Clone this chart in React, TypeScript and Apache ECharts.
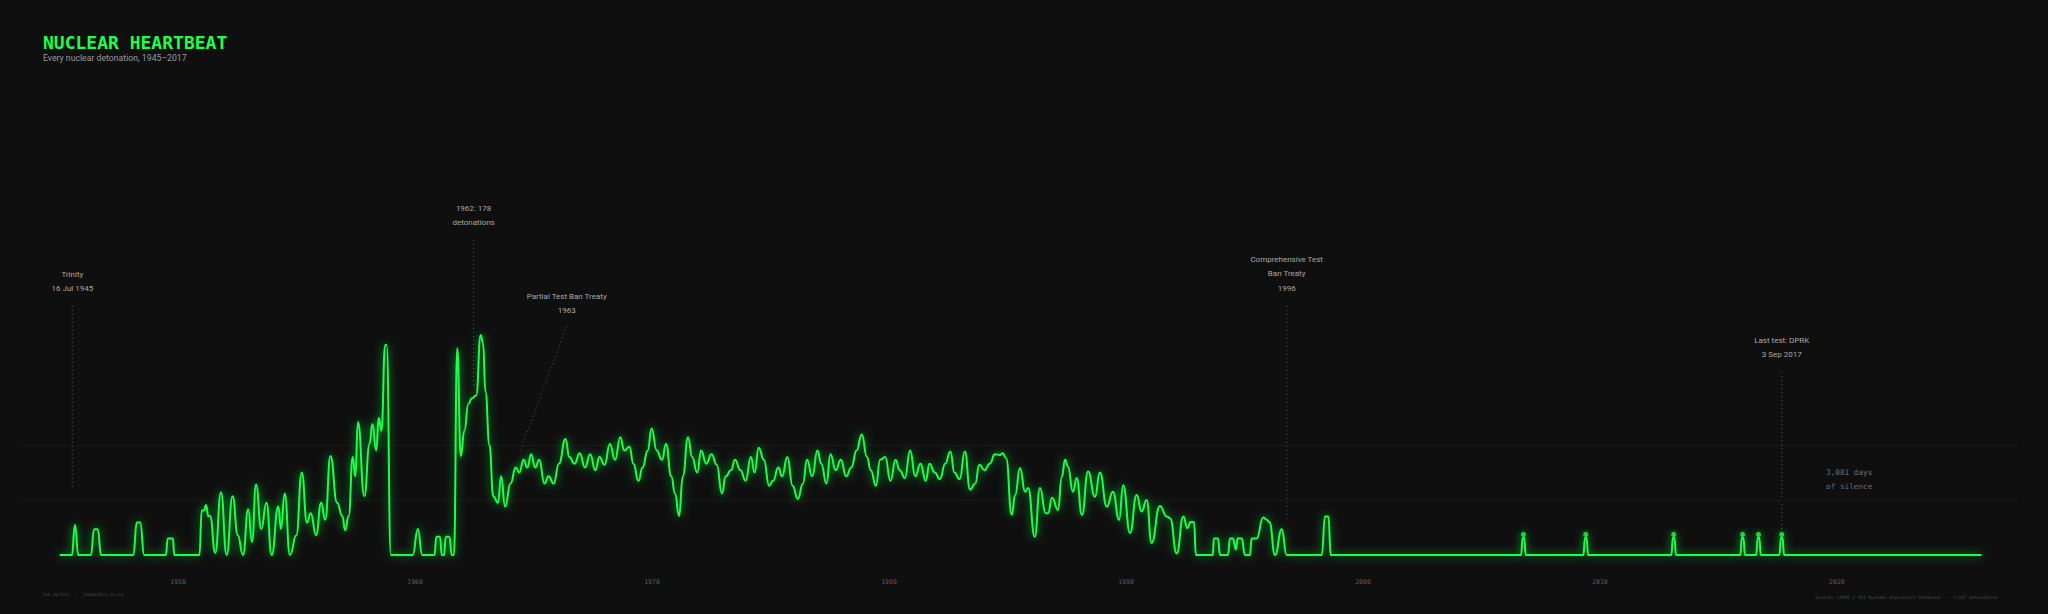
import React, { useEffect, useRef } from "react";
import * as echarts from "echarts";

// Smoothed detonation pulse (years, intensity)
const pulseYears = [
  1945.0, 1945.52, 1945.65, 1945.79, 1946.32, 1946.46, 1946.61, 1946.75,
  1948.11, 1948.26, 1948.4, 1948.57, 1949.48, 1949.57, 1949.78, 1949.84,
  1950.9, 1951.0, 1951.1, 1951.18, 1951.28, 1951.35, 1951.57, 1951.81,
  1952.05, 1952.3, 1952.52, 1952.74, 1952.96, 1953.12, 1953.29, 1953.51,
  1953.73, 1953.95, 1954.23, 1954.34, 1954.5, 1954.72, 1954.99, 1955.22,
  1955.44, 1955.6, 1955.82, 1956.04, 1956.21, 1956.43, 1956.71, 1956.93,
  1957.05, 1957.2, 1957.37, 1957.48, 1957.59, 1957.86, 1958.08, 1958.2,
  1958.36, 1958.47, 1958.58, 1958.74, 1958.8, 1958.98,
  1959.9, 1960.12, 1960.3, 1960.82, 1960.9, 1961.05, 1961.13, 1961.22,
  1961.3, 1961.45, 1961.55, 1961.64, 1961.78, 1961.93, 1962.08, 1962.25,
  1962.4, 1962.58, 1962.77, 1962.87, 1962.97, 1963.14, 1963.3, 1963.5,
  1963.63, 1963.8, 1964.03, 1964.25, 1964.4, 1964.58, 1964.74, 1964.9,
  1965.07, 1965.24, 1965.46, 1965.63, 1965.85, 1966.07, 1966.35, 1966.51,
  1966.73, 1966.95, 1967.17, 1967.39, 1967.61, 1967.78, 1968.0, 1968.22,
  1968.44, 1968.66, 1968.83, 1969.05, 1969.21, 1969.43, 1969.6, 1969.82,
  1969.98, 1970.2, 1970.42, 1970.59, 1970.81, 1970.97, 1971.14, 1971.3,
  1971.52, 1971.69, 1971.91, 1972.07, 1972.29, 1972.51, 1972.73, 1972.95,
  1973.11, 1973.33, 1973.5, 1973.73, 1973.95, 1974.17, 1974.33, 1974.5,
  1974.72, 1974.94, 1975.11, 1975.33, 1975.49, 1975.71, 1975.93, 1976.15,
  1976.37, 1976.54, 1976.76, 1976.98, 1977.14, 1977.36, 1977.53, 1977.75,
  1977.97, 1978.19, 1978.41, 1978.63, 1978.85, 1979.07, 1979.23, 1979.45,
  1979.62, 1979.84, 1980.06, 1980.28, 1980.45, 1980.67, 1980.89, 1981.11,
  1981.33, 1981.55, 1981.71, 1981.93, 1982.15, 1982.37, 1982.59, 1982.76,
  1982.98, 1983.2, 1983.42, 1983.64, 1983.81, 1984.03, 1984.25, 1984.47,
  1984.68, 1984.8, 1984.94, 1985.18, 1985.32, 1985.53, 1985.74, 1985.87,
  1986.15, 1986.37, 1986.61, 1986.71, 1986.88, 1987.13, 1987.29, 1987.43,
  1987.55, 1987.76, 1987.92, 1988.14, 1988.4, 1988.69, 1988.9, 1989.19,
  1989.45, 1989.71, 1989.88, 1990.17, 1990.45, 1990.66, 1990.87, 1991.08,
  1991.43, 1991.72, 1991.86, 1992.14, 1992.42, 1992.59, 1992.73, 1992.87,
  1992.95, 1993.66, 1993.71, 1993.88, 1993.97, 1994.3, 1994.39, 1994.51,
  1994.64, 1994.71, 1994.88, 1995.02, 1995.23, 1995.3, 1995.51, 1995.79,
  1995.94, 1996.05, 1996.29, 1996.57, 1996.78, 1998.26, 1998.4, 1998.54,
  1998.64,
  2006.67, 2006.74, 2006.8, 2006.87,
  2009.3, 2009.37, 2009.43, 2009.5,
  2013.01, 2013.08, 2013.14, 2013.21,
  2015.92, 2015.99, 2016.05, 2016.12,
  2016.59, 2016.66, 2016.72, 2016.79,
  2017.57, 2017.64, 2017.7, 2017.77,
  2026.1,
];

const pulseValues = [
  0, 0, 5.45, 0, 0, 4.7, 4.7, 0,
  0, 5.9, 5.9, 0, 0, 3.0, 3.0, 0,
  0, 8.1, 8.1, 9.1, 7.0, 7.1, 0.4, 11.4,
  0, 10.7, 3.6, 0, 8.3, 2.4, 12.8, 4.75,
  9.5, 0, 8.8, 4.75, 11.2, 0, 3.6, 15,
  5.9, 7.6, 3.6, 9.5, 6.4, 18, 9.5, 7.1,
  4.5, 7.1, 17.8, 14.3, 24.2, 10.7, 20.2, 23.8,
  19, 24.9, 22.6, 38.2, 38.2, 0,
  0, 4.75, 0, 0, 3.3, 3.3, 0, 0,
  3.3, 3.3, 0, 0, 37.6, 18, 22.6, 27.5,
  28.5, 29, 40, 38.5, 29.7, 20, 10.7, 9.5,
  14.3, 8.8, 13, 15.9, 15, 17.3, 15.9, 18.3,
  15.9, 17.3, 13, 14.3, 13, 16.6, 21.1, 17.8,
  16.6, 18.5, 15.9, 18.3, 15.4, 17.8, 16.4, 20.2,
  17.3, 21.4, 19, 19.7, 16.6, 13.5, 15.9, 19,
  23, 19, 17.3, 20.2, 14.3, 11.2, 7.1, 14.3,
  21.4, 17.8, 15, 19, 16.6, 18.3, 16.4, 11.2,
  14.3, 15.4, 17.3, 15.4, 13.5, 17.8, 15, 19.5,
  17.3, 12.6, 13.5, 15.9, 14.3, 17.8, 12.6, 10.2,
  13, 17.3, 14.3, 19, 16.6, 13, 18.3, 15.4,
  17.3, 14.3, 15.9, 19, 21.9, 17.8, 15.4, 12.6,
  17.3, 17.8, 13.5, 17.3, 15.4, 14, 19, 14.3,
  16.6, 13.5, 16.6, 15, 13.8, 16.6, 18.8, 15,
  13.8, 18.8, 11.9, 13, 16.4, 15.4, 16.6, 18.3,
  18.2, 18.5, 17.6, 7.3, 10.9, 15.8, 11.5, 12.2,
  3.3, 12.2, 7.6, 7.6, 10.4, 8.2, 14.2, 17.3,
  16.1, 11.5, 14, 7.3, 15.2, 10.6, 15, 8.8,
  11.5, 6.4, 12.7, 4, 10.9, 7.9, 10, 2.2,
  8.9, 7, 6.7, 0.3, 7, 4.9, 6, 6,
  0, 0, 3, 3, 0, 0, 3, 3,
  1, 3, 3, 0, 0, 3, 3, 6.8,
  6.4, 6.0, 0, 4.7, 0, 0, 7, 7,
  0,
  0, 3.2, 3.2, 0,
  0, 3.2, 3.2, 0,
  0, 3.2, 3.2, 0,
  0, 3.2, 3.2, 0,
  0, 3.2, 3.2, 0,
  0, 3.2, 3.2, 0,
  0,
];

// DPRK tests marked with a dot
const dprkYears = [2006.77, 2009.4, 2013.11, 2016.02, 2016.69, 2017.67];
const dprkValues = [3.2, 3.2, 3.2, 3.2, 3.2, 3.2];

const tickYears = [1950, 1960, 1970, 1980, 1990, 2000, 2010, 2020];
const gridLevels = [10, 20];

const annotationYears = [1945.54, 1962.47, 1966.4, 1996.78, 2017.67];
const annotationPointYears = [1945.54, 1962.47, 1964.43, 1996.78, 2017.67];
const annotationLines = [
  ["Trinity", "16 Jul 1945"],
  ["1962: 178", "detonations"],
  ["Partial Test Ban Treaty", "1963"],
  ["Comprehensive Test", "Ban Treaty", "1996"],
  ["Last test: DPRK", "3 Sep 2017"],
];

const titleText = "NUCLEAR HEARTBEAT";
const subtitleText = "Every nuclear detonation, 1945\u20132017";
const silenceLines = ["3,081 days", "of silence"];
const creditText = "lee durbin  \u00b7  leedurbin.co.nz";
const sourceText = "Source: SIPRI / FOI Nuclear Explosions Database  \u00b7  2,057 detonations";

// Layout (pixels) for annotation text and leader lines
const annTextTop = [274, 208, 296, 259, 340];
const annLeaderTop = [306, 240, 326, 306, 372];
const annLeaderBottom = [490, 385, 451, 522, 530];
const LINE_GAP = 14.6;

const GREEN = "#1cff48";

export default function App() {
  const ref = useRef<HTMLDivElement>(null);

  useEffect(() => {
    if (!ref.current) return;
    const chart = echarts.init(ref.current, undefined, { renderer: "svg" });

    const lineData = pulseYears.map((y, i) => [y, pulseValues[i]]);
    const dotData = dprkYears.map((y, i) => [y, dprkValues[i]]);

    chart.setOption({
      animation: false,
      backgroundColor: "#0f0f0f",
      grid: { left: 20, right: 30, top: 280, bottom: 59 },
      xAxis: {
        type: "value",
        min: 1943.33,
        max: 2027.64,
        axisLine: { show: false },
        axisTick: { show: false },
        splitLine: { show: false },
        axisLabel: {
          customValues: tickYears,
          formatter: (v: number) => String(Math.round(v)),
          color: "#5a5a5a",
          fontSize: 6.5,
          fontFamily: "DejaVu Sans Mono",
          margin: 23,
        },
      },
      yAxis: {
        type: "value",
        min: 0,
        max: 50,
        show: false,
        splitLine: { show: false },
      },
      series: [
        {
          type: "line",
          data: lineData,
          showSymbol: false,
          symbol: "none",
          smooth: 0.5,
          smoothMonotone: "x",
          clip: false,
          z: 3,
          lineStyle: {
            color: GREEN,
            width: 2,
            shadowColor: "rgba(20,255,70,0.75)",
            shadowBlur: 8,
          },
          markLine: {
            silent: true,
            symbol: "none",
            label: { show: false },
            lineStyle: { color: "#181818", type: "solid", width: 1 },
            data: gridLevels.map((v) => ({ yAxis: v })),
            z: 1,
          },
        },
        {
          type: "scatter",
          data: dotData,
          symbol: "circle",
          symbolSize: 5,
          symbolOffset: [0, -3],
          z: 4,
          itemStyle: {
            color: GREEN,
            shadowColor: "rgba(20,255,70,0.8)",
            shadowBlur: 6,
          },
        },
      ],
    });

    const graphics: any[] = [];
    graphics.push({
      type: "text",
      style: {
        text: titleText,
        x: 43,
        y: 42,
        fill: GREEN,
        fontSize: 18,
        fontWeight: "bold",
        fontFamily: "DejaVu Sans Mono",
        textVerticalAlign: "middle",
      },
    });
    graphics.push({
      type: "text",
      style: {
        text: subtitleText,
        x: 43,
        y: 58,
        fill: "#9a9a9a",
        fontSize: 8.7,
        fontFamily: "Roboto",
        textVerticalAlign: "middle",
      },
    });

    annotationYears.forEach((yr, i) => {
      const [px] = chart.convertToPixel({ gridIndex: 0 }, [yr, 0]) as number[];
      const [ppx] = chart.convertToPixel({ gridIndex: 0 }, [annotationPointYears[i], 0]) as number[];
      annotationLines[i].forEach((t, j) => {
        graphics.push({
          type: "text",
          style: {
            text: t,
            x: px,
            y: annTextTop[i] + j * LINE_GAP,
            fill: "#a8a8a8",
            fontSize: 8,
            fontFamily: "Roboto",
            textAlign: "center",
            textVerticalAlign: "middle",
          },
        });
      });
      graphics.push({
        type: "line",
        shape: { x1: px, y1: annLeaderTop[i], x2: ppx, y2: annLeaderBottom[i] },
        style: { stroke: "#555555", lineWidth: 1, lineDash: [1, 3] },
      });
    });

    silenceLines.forEach((t, j) => {
      graphics.push({
        type: "text",
        style: {
          text: t,
          x: 1826,
          y: 472 + j * 14.6,
          fill: "#6e6e6e",
          fontSize: 7.7,
          fontFamily: "DejaVu Sans Mono",
          textVerticalAlign: "middle",
        },
      });
    });

    graphics.push({
      type: "text",
      style: {
        text: creditText,
        x: 42,
        y: 594,
        fill: "#4a4a4a",
        fontSize: 4.5,
        fontFamily: "DejaVu Sans Mono",
        textVerticalAlign: "middle",
      },
    });
    graphics.push({
      type: "text",
      style: {
        text: sourceText,
        x: 1998,
        y: 597,
        fill: "#4a4a4a",
        fontSize: 4.4,
        fontFamily: "DejaVu Sans Mono",
        textAlign: "right",
        textVerticalAlign: "middle",
      },
    });

    chart.setOption({ graphic: graphics });

    return () => chart.dispose();
  }, []);

  return (
    <div
      ref={ref}
      style={{
        position: "fixed",
        left: 0,
        top: 0,
        width: 2048,
        height: 614,
        background: "#0f0f0f",
      }}
    />
  );
}
